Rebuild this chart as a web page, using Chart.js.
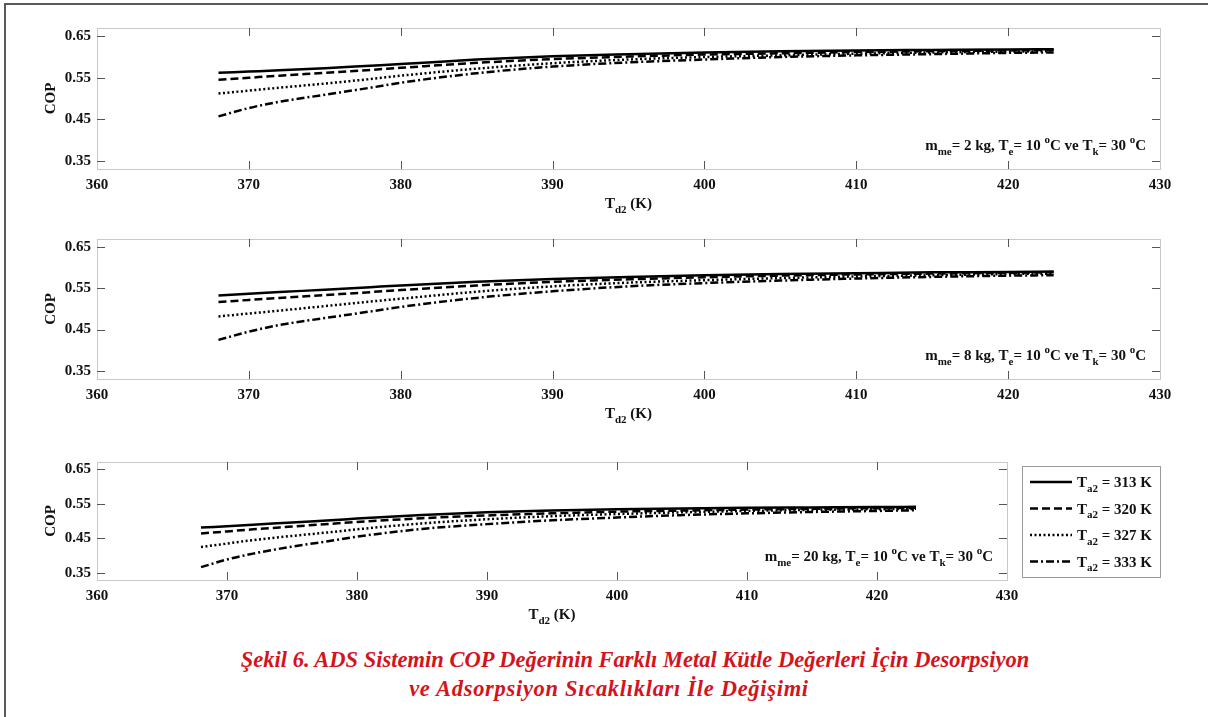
<!DOCTYPE html>
<html lang="tr">
<head>
<meta charset="UTF-8">
<title>ADS Sistemi COP - Td2</title>
<script src="https://cdn.jsdelivr.net/npm/chart.js"></script>
<style>
    body { margin: 0; background: #fff; width: 1208px; height: 717px; overflow: hidden; position: relative; }
    .frame { position: absolute; left: 4px; top: 3px; width: 1300px; height: 800px; border: 2px solid #5a5a5a; }
    canvas { position: absolute; left: 0; }
    .caption { position: absolute; left: 0; text-align: center; color: #d3141c;
               font: italic bold 22.5px "Liberation Serif", serif; white-space: nowrap; }
</style>
</head>
<body>
<div class="frame"></div>
<canvas id="panel2kg" width="1208" height="207" style="top:8px"></canvas>
<canvas id="panel8kg" width="1208" height="206" style="top:219px"></canvas>
<canvas id="panel20kg" width="1208" height="184" style="top:442px"></canvas>
<div class="caption" style="top:647px; width:1270px">Şekil 6. ADS Sistemin COP Değerinin Farklı Metal Kütle Değerleri İçin Desorpsiyon</div>
<div class="caption" style="top:676px; width:1218px; letter-spacing:0.7px">ve Adsorpsiyon Sıcaklıkları İle Değişimi</div>

<script>
// desorpsiyon sicakligi Td2 (K)
var temps = [368, 370, 372, 375, 378, 380, 385, 390, 395, 400, 405, 410, 415, 420, 423];
var yTickValues = [0.35, 0.45, 0.55, 0.65];
var adsTemps = ['313', '320', '327', '333'];

// m_me = 2 kg
var cop2_313 = [0.562, 0.565, 0.568, 0.573, 0.579, 0.583, 0.594, 0.602, 0.607, 0.611, 0.614, 0.616, 0.617, 0.618, 0.619];
var cop2_320 = [0.545, 0.550, 0.555, 0.562, 0.569, 0.574, 0.586, 0.595, 0.601, 0.606, 0.609, 0.612, 0.614, 0.616, 0.617];
var cop2_327 = [0.512, 0.519, 0.526, 0.536, 0.547, 0.555, 0.572, 0.585, 0.594, 0.600, 0.604, 0.608, 0.611, 0.613, 0.614];
var cop2_333 = [0.457, 0.477, 0.492, 0.509, 0.526, 0.538, 0.561, 0.577, 0.587, 0.594, 0.600, 0.604, 0.607, 0.610, 0.611];

// m_me = 8 kg
var cop8_313 = [0.533, 0.537, 0.541, 0.547, 0.553, 0.557, 0.566, 0.573, 0.578, 0.582, 0.585, 0.587, 0.589, 0.590, 0.591];
var cop8_320 = [0.517, 0.522, 0.527, 0.534, 0.541, 0.546, 0.557, 0.566, 0.572, 0.577, 0.581, 0.584, 0.586, 0.588, 0.589];
var cop8_327 = [0.482, 0.489, 0.496, 0.507, 0.518, 0.525, 0.542, 0.555, 0.564, 0.570, 0.575, 0.579, 0.582, 0.585, 0.586];
var cop8_333 = [0.425, 0.445, 0.461, 0.478, 0.494, 0.505, 0.527, 0.543, 0.555, 0.563, 0.569, 0.574, 0.578, 0.581, 0.582];

// m_me = 20 kg
var cop20_313 = [0.481, 0.485, 0.489, 0.496, 0.502, 0.507, 0.517, 0.525, 0.530, 0.534, 0.536, 0.538, 0.539, 0.540, 0.541];
var cop20_320 = [0.464, 0.470, 0.476, 0.484, 0.492, 0.497, 0.508, 0.516, 0.522, 0.527, 0.530, 0.533, 0.535, 0.537, 0.538];
var cop20_327 = [0.425, 0.435, 0.445, 0.457, 0.468, 0.476, 0.493, 0.505, 0.514, 0.520, 0.525, 0.529, 0.532, 0.534, 0.535];
var cop20_333 = [0.367, 0.389, 0.406, 0.426, 0.443, 0.455, 0.477, 0.491, 0.502, 0.510, 0.517, 0.522, 0.526, 0.529, 0.531];

var dashes = [[], [8, 4], [2, 2.5], [8, 3, 2, 3]];
var serif = '"Liberation Serif", serif';

// text with sub/superscripts: [text, 0 normal | 1 sub | 2 sup]
function drawRich(ctx, parts, x, y, align, size) {
    function fontFor(m) { return 'bold ' + (m === 0 ? size : Math.round(size * 0.72)) + 'px ' + serif; }
    var w = 0;
    parts.forEach(function (p) { ctx.font = fontFor(p[1]); w += ctx.measureText(p[0]).width; });
    var cx = align === 'right' ? x - w : (align === 'center' ? x - w / 2 : x);
    ctx.textAlign = 'left';
    ctx.textBaseline = 'alphabetic';
    parts.forEach(function (p) {
        ctx.font = fontFor(p[1]);
        var dy = p[1] === 1 ? size * 0.32 : (p[1] === 2 ? -size * 0.45 : 0);
        ctx.fillText(p[0], cx, y + dy);
        cx += ctx.measureText(p[0]).width;
    });
}

function noteParts(mass) {
    return [['m', 0], ['me', 1], ['= ' + mass + ' kg, T', 0], ['e', 1], ['= 10 ', 0], ['o', 2],
            ['C ve T', 0], ['k', 1], ['= 30 ', 0], ['o', 2], ['C', 0]];
}

var panelDecor = {
    id: 'panelDecor',
    afterDraw: function (chart) {
        var ctx = chart.ctx, a = chart.chartArea, opts = chart.options.plugins.panelDecor;
        var xs = chart.scales.x, ys = chart.scales.y;
        ctx.save();
        // axes box
        ctx.strokeStyle = '#c9c9c9';
        ctx.lineWidth = 1;
        ctx.strokeRect(a.left + 0.5, a.top + 0.5, a.right - a.left, a.bottom - a.top);
        // inward ticks
        ctx.strokeStyle = '#555';
        ctx.beginPath();
        xs.ticks.forEach(function (t) {
            if (t.value <= xs.min || t.value >= xs.max) return;
            var px = Math.round(xs.getPixelForValue(t.value)) + 0.5;
            ctx.moveTo(px, a.top); ctx.lineTo(px, a.top + 8);
            ctx.moveTo(px, a.bottom); ctx.lineTo(px, a.bottom - 8);
        });
        ys.ticks.forEach(function (t) {
            var py = Math.round(ys.getPixelForValue(t.value)) + 0.5;
            ctx.moveTo(a.left, py); ctx.lineTo(a.left + 8, py);
            ctx.moveTo(a.right, py); ctx.lineTo(a.right - 8, py);
        });
        ctx.stroke();

        ctx.fillStyle = '#111';
        // y axis title
        ctx.save();
        ctx.translate(a.left - 46, (a.top + a.bottom) / 2);
        ctx.rotate(-Math.PI / 2);
        ctx.font = 'bold 15px ' + serif;
        ctx.textAlign = 'center';
        ctx.textBaseline = 'middle';
        ctx.fillText('COP', 0, 0);
        ctx.restore();
        // x axis title
        drawRich(ctx, [['T', 0], ['d2', 1], [' (K)', 0]], (a.left + a.right) / 2, a.bottom + 39, 'center', 15);
        // note
        drawRich(ctx, noteParts(opts.mass), a.right - 14, a.bottom - 19, 'right', 15);

        if (opts.legend) {
            var bx = a.right + 15, by = a.top + 4, bw = 138, bh = 111;
            ctx.strokeStyle = '#9a9a9a';
            ctx.strokeRect(bx + 0.5, by + 0.5, bw, bh);
            chart.data.datasets.forEach(function (ds, i) {
                var ry = by + 16 + i * 26.5;
                ctx.strokeStyle = '#000';
                ctx.lineWidth = 2.5;
                ctx.setLineDash(ds.borderDash);
                ctx.beginPath();
                ctx.moveTo(bx + 8, ry); ctx.lineTo(bx + 50, ry);
                ctx.stroke();
                ctx.setLineDash([]);
                drawRich(ctx, [['T', 0], ['a2', 1], [' = ' + adsTemps[i] + ' K', 0]], bx + 55, ry + 5, 'left', 15);
            });
        }
        ctx.restore();
    }
};

function makePanel(id, mass, series, rightPad, legend) {
    var ctx = document.getElementById(id).getContext('2d');
    return new Chart(ctx, {
        type: 'line',
        data: {
            labels: temps,
            datasets: series.map(function (vals, i) {
                return {
                    label: 'Ta2 = ' + adsTemps[i] + ' K',
                    data: temps.map(function (t, j) { return { x: t, y: vals[j] }; }),
                    borderColor: '#000',
                    borderWidth: 2.5,
                    borderDash: dashes[i],
                    pointRadius: 0,
                    fill: false,
                    cubicInterpolationMode: 'monotone'
                };
            })
        },
        options: {
            responsive: false,
            animation: false,
            layout: { padding: { top: 20, right: rightPad, left: 0, bottom: 0 } },
            plugins: {
                legend: { display: false },
                tooltip: { enabled: false },
                panelDecor: { mass: mass, legend: legend }
            },
            scales: {
                x: {
                    type: 'linear', min: 360, max: 430,
                    grid: { display: false, drawTicks: false },
                    border: { display: false },
                    ticks: { stepSize: 10, padding: 7, color: '#111', font: { family: serif, size: 15, weight: 'bold' } },
                    afterFit: function (s) { s.height = 46; }
                },
                y: {
                    min: 0.33, max: 0.67,
                    grid: { display: false, drawTicks: false },
                    border: { display: false },
                    afterBuildTicks: function (s) { s.ticks = yTickValues.map(function (v) { return { value: v }; }); },
                    ticks: {
                        padding: 6, color: '#111', font: { family: serif, size: 15, weight: 'bold' },
                        callback: function (v) { return v.toFixed(2); }
                    },
                    afterFit: function (s) { s.width = 97; }
                }
            }
        },
        plugins: [panelDecor]
    });
}

makePanel('panel2kg', 2, [cop2_313, cop2_320, cop2_327, cop2_333], 48, false);
makePanel('panel8kg', 8, [cop8_313, cop8_320, cop8_327, cop8_333], 48, false);
makePanel('panel20kg', 20, [cop20_313, cop20_320, cop20_327, cop20_333], 201, true);
</script>
</body>
</html>
